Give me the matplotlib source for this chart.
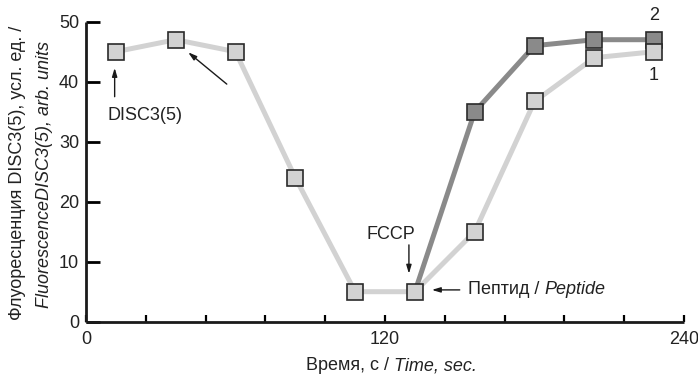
import matplotlib
matplotlib.use("Agg")
import matplotlib.pyplot as plt
from matplotlib.offsetbox import TextArea, HPacker, AnnotationBbox

plt.rcParams['font.family'] = ['Liberation Sans', 'DejaVu Sans']

# time points, s
time_base = [12, 36, 60, 84, 108, 132]
fluor_base = [45, 47, 45, 24, 5, 5]

# after peptide / FCCP addition (both start from the 132 s point)
time_after = [132, 156, 180, 204, 228]
fluor_1 = [5, 15, 36.7, 44, 45]
fluor_2 = [5, 35, 46, 47, 47]

x_ticks = [0, 24, 48, 72, 96, 120, 144, 168, 192, 216, 240]
x_labels = ["0", "", "", "", "", "120", "", "", "", "", "240"]
y_ticks = [0, 10, 20, 30, 40, 50]

LIGHT = "#d2d2d2"
DARK = "#8a8a8a"
EDGE = "#2a2a2a"
TXT = "#222222"
FS = 13
FS_TICK = 13


def mixed(ax, xy, roman, italic, coords, align):
    """roman + italic text side by side, as one box"""
    box = HPacker(children=[TextArea(roman, textprops=dict(fontsize=FS, color=TXT)),
                            TextArea(italic, textprops=dict(fontsize=FS, color=TXT, style="italic"))],
                  sep=0, pad=0, align="baseline")
    ab = AnnotationBbox(box, xy, xycoords=coords, frameon=False, box_alignment=align,
                        pad=0, annotation_clip=False)
    ax.add_artist(ab)


fig = plt.figure(figsize=(6.98, 3.77), dpi=100)
ax = fig.add_axes([86 / 698, 1 - 321.7 / 377, 598 / 698, 300 / 377])

ax.plot(time_after, fluor_2, color=DARK, lw=3.6, zorder=2)
ax.plot(time_base + time_after[1:], fluor_base + fluor_1[1:], color=LIGHT, lw=3.6, zorder=1)
ax.plot(time_after[1:], fluor_2[1:], ls="none", marker="s", ms=11.5,
        mfc=DARK, mec=EDGE, mew=1.2, zorder=3)
ax.plot(time_base + time_after[1:], fluor_base + fluor_1[1:], ls="none", marker="s", ms=11.5,
        mfc=LIGHT, mec=EDGE, mew=1.2, zorder=4)

ax.set_xlim(0, 240)
ax.set_ylim(0, 50)
for s in ["top", "right"]:
    ax.spines[s].set_visible(False)
for s in ["left", "bottom"]:
    ax.spines[s].set_linewidth(2)
    ax.spines[s].set_color("#1a1a1a")
    ax.spines[s].set_capstyle("butt")

ax.set_xticks(x_ticks)
ax.set_xticklabels(x_labels)
ax.set_yticks(y_ticks)
ax.tick_params(axis="x", direction="in", length=5, width=1.6, pad=7, labelsize=FS_TICK, labelcolor=TXT)
ax.tick_params(axis="y", direction="in", length=10, width=2, pad=5, labelsize=FS_TICK, labelcolor=TXT)

# y axis label, two lines
fig.text(18 / 698, 1 - 173 / 377, "Флуоресценция DISC3(5), усл. ед. /", rotation=90,
         ha="center", va="center", fontsize=FS, color=TXT)
fig.text(45 / 698, 1 - 174 / 377, "FluorescenceDISC3(5), arb. units", rotation=90,
         ha="center", va="center", fontsize=FS, style="italic", color=TXT)

# x axis label
mixed(ax, (391, 377 - 366), "Время, с / ", "Time, sec.", "figure pixels", (0.5, 0.5))

arrow = dict(arrowstyle="-|>,head_length=0.5,head_width=0.15", color="#1a1a1a", lw=1, shrinkA=0, shrinkB=0)

ax.annotate("", xy=(11.5, 42.3), xytext=(11.5, 37.5), arrowprops=arrow)
ax.text(8.8, 34.4, "DISC3(5)", ha="left", va="center", fontsize=FS, color=TXT)
ax.annotate("", xy=(41, 44.9), xytext=(56.5, 39.6), arrowprops=arrow)

ax.annotate("", xy=(129.6, 8.0), xytext=(129.6, 12.8), arrowprops=arrow)
ax.text(122.3, 14.5, "FCCP", ha="center", va="center", fontsize=FS, color=TXT)

ax.annotate("", xy=(138.8, 5.3), xytext=(150, 5.3), arrowprops=arrow)
mixed(ax, (153.3, 5.3), "Пептид / ", "Peptide", "data", (0.0, 0.5))

ax.text(228, 51.1, "2", ha="center", va="center", fontsize=FS, color=TXT, clip_on=False)
ax.text(228, 41.1, "1", ha="center", va="center", fontsize=FS, color=TXT)

fig.savefig("out.png", dpi=100)
